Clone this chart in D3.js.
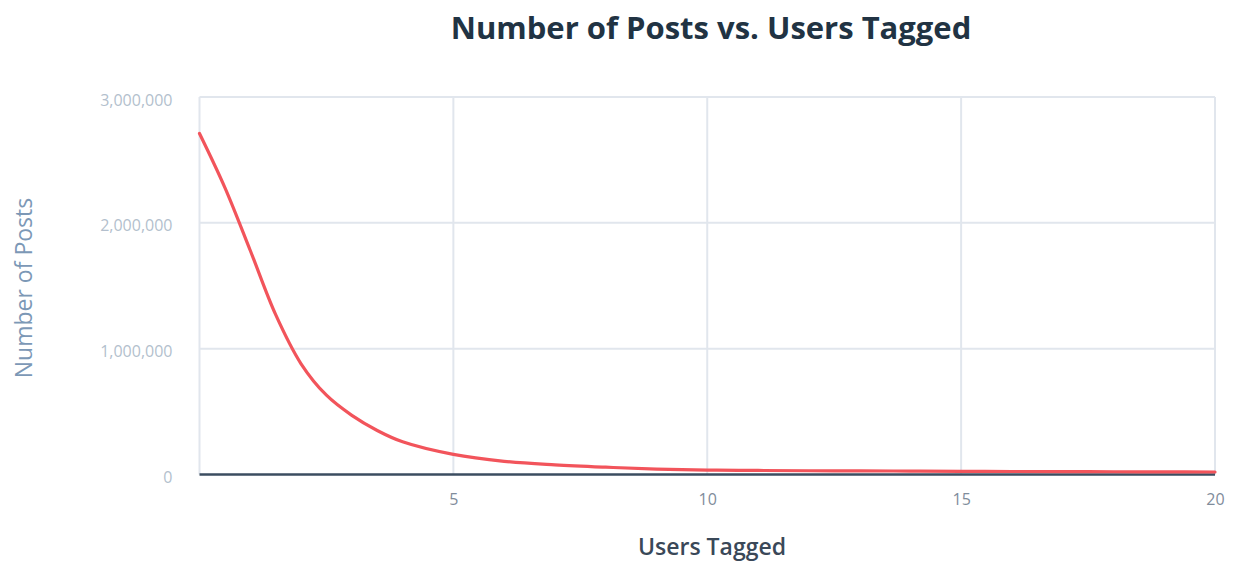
<!DOCTYPE html>
<html>
<head>
<meta charset="utf-8">
<script src="https://cdn.jsdelivr.net/npm/d3@7"></script>
<style>
  body { margin: 0; background: #fff; }
  .title { font-family: "Open Sans", sans-serif; font-weight: 700; font-size: 31px; fill: #213343; }
  .ytick text { font-family: "Open Sans", sans-serif; font-size: 16px; fill: #b3bfcd; }
  .xtick text { font-family: "Open Sans", sans-serif; font-size: 16px; fill: #7f8c9b; }
  .xlabel { font-family: "Open Sans", sans-serif; font-weight: 600; font-size: 23px; fill: #3a4858; }
  .ylabel { font-family: "Open Sans", sans-serif; font-weight: 400; font-size: 23px; fill: #7c98b6; }
</style>
</head>
<body>
<div id="chart"></div>
<script>
// users tagged on a post (x) and number of posts (y)
// (half steps read too where the curve bends fast)
var usersTagged = [0, 0.5, 1, 1.5, 2, 2.5, 3, 3.5, 4, 5, 6, 7, 8, 9, 10,
                   11, 12, 13, 14, 15, 16, 17, 18, 19, 20];
var posts = [2710000, 2280000, 1780000, 1270000, 880000, 630000, 470000, 350000, 260000,
             160000, 105000, 77000, 58000, 43000, 35000, 32000, 30000, 29000, 27000,
             25000, 24000, 23000, 22000, 21000, 20000];

var yTicks = [0, 1000000, 2000000, 3000000];
var xTicks = [5, 10, 15, 20];
var xGrid = [0, 5, 10, 15, 20];

var width = 1238, height = 563;
var margin = {top: 97, right: 23, bottom: 88.5, left: 199.5};
var innerW = width - margin.left - margin.right;
var innerH = height - margin.top - margin.bottom;

var data = usersTagged.map(function(u, i) { return {x: u, y: posts[i]}; });

var x = d3.scaleLinear().domain([0, 20]).range([0, innerW]);
var y = d3.scaleLinear().domain([0, 3000000]).range([innerH, 0]);

var svg = d3.select('#chart').append('svg')
  .attr('width', width)
  .attr('height', height);

svg.append('text')
  .attr('class', 'title')
  .attr('x', 711)
  .attr('y', 39)
  .attr('text-anchor', 'middle')
  .text('Number of Posts vs. Users Tagged');

var g = svg.append('g')
  .attr('transform', 'translate(' + margin.left + ',' + margin.top + ')');

// horizontal grid
g.selectAll('.hgrid')
  .data(yTicks.filter(function(d) { return d > 0; }))
  .enter().append('line')
  .attr('x1', 0).attr('x2', innerW)
  .attr('y1', function(d) { return y(d); })
  .attr('y2', function(d) { return y(d); })
  .attr('stroke', '#e1e6ed')
  .attr('stroke-width', 2);

// vertical grid
g.selectAll('.vgrid')
  .data(xGrid)
  .enter().append('line')
  .attr('x1', function(d) { return x(d); })
  .attr('x2', function(d) { return x(d); })
  .attr('y1', 0).attr('y2', innerH)
  .attr('stroke', '#e1e6ed')
  .attr('stroke-width', 2);

// y axis labels
var yAxis = g.append('g')
  .attr('class', 'ytick')
  .call(d3.axisLeft(y).tickValues(yTicks).tickFormat(d3.format(',')).tickSize(0).tickPadding(27));
yAxis.select('.domain').remove();
yAxis.selectAll('text').attr('dy', '0.5em');

// x axis labels
var xAxis = g.append('g')
  .attr('class', 'xtick')
  .attr('transform', 'translate(0,' + innerH + ')')
  .call(d3.axisBottom(x).tickValues(xTicks).tickSize(0).tickPadding(19));
xAxis.select('.domain').remove();

// zero baseline
g.append('line')
  .attr('x1', 0).attr('x2', innerW)
  .attr('y1', y(0)).attr('y2', y(0))
  .attr('stroke', '#3b4d60')
  .attr('stroke-width', 2.5);

// the series line
var line = d3.line()
  .x(function(d) { return x(d.x); })
  .y(function(d) { return y(d.y); })
  .curve(d3.curveCatmullRom.alpha(0.5));

g.append('path')
  .datum(data)
  .attr('d', line)
  .attr('fill', 'none')
  .attr('stroke', '#f2545b')
  .attr('stroke-width', 3.2)
  .attr('stroke-linecap', 'round');

// axis titles
svg.append('text')
  .attr('class', 'xlabel')
  .attr('x', 712)
  .attr('y', 555)
  .attr('text-anchor', 'middle')
  .text('Users Tagged');

svg.append('text')
  .attr('class', 'ylabel')
  .attr('transform', 'translate(32,288) rotate(-90)')
  .attr('text-anchor', 'middle')
  .text('Number of Posts');
</script>
</body>
</html>
